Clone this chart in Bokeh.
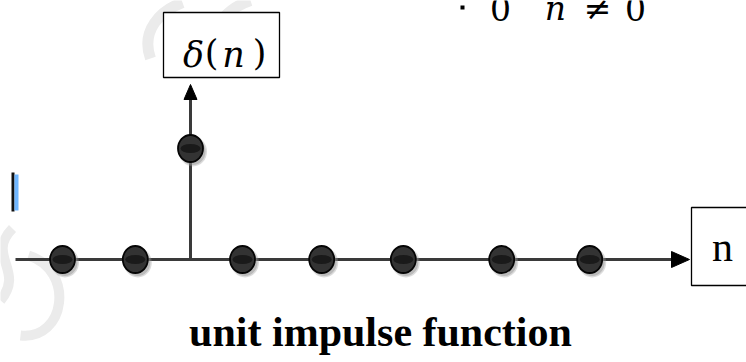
from bokeh.plotting import figure
from bokeh.models import Range1d
from bokeh.core.properties import value
from bokeh.embed import file_html
from bokeh.resources import INLINE

# Discrete unit impulse: delta(n) = 1 at n = 0, 0 elsewhere.
# Horizontal positions of the drawn samples along the n axis (sample units).
sample_pos = [-1.6, -0.69, 0.0, 0.65, 1.64, 2.66, 3.89, 4.99]
sample_val = [0, 0, 1, 0, 0, 0, 0, 0]

title_text = "unit impulse function"
axis_label_n = "n"

W, H = 746, 362
# pixel anchors of the origin and size of one unit on each axis
X0, SX = 190.0, 80.0
Y0, SY = 259.0, 111.0


def px(x):
    return (x - X0) / SX


def py(y):
    return (Y0 - y) / SY


def put_text(xs, ys, texts, size, font="DejaVu Serif", style="normal"):
    # baseline placement, nudged so the glyph baseline sits on ys
    p.text(x=[px(v) for v in xs], y=[py(v) for v in ys], text=texts,
           text_font=value(font), text_font_style=style,
           text_font_size=f"{size}px", text_align="center",
           text_baseline="alphabetic", text_color="black",
           y_offset=-round(0.32 * size))


p = figure(width=W, height=H, output_backend="svg", toolbar_location=None,
           x_range=Range1d(px(0), px(W)), y_range=Range1d(py(H), py(0)),
           min_border=0)
p.axis.visible = False
p.grid.visible = False
p.outline_line_color = None
p.background_fill_color = "white"

# faint background watermark strokes
wm = "#ebebeb"
p.bezier(x0=[px(150)], y0=[py(58)], x1=[px(182)], y1=[py(2)],
         cx0=[px(140)], cy0=[py(30)], cx1=[px(160)], cy1=[py(10)],
         line_color=wm, line_width=11)
p.bezier(x0=[px(212)], y0=[py(36)], x1=[px(250)], y1=[py(0)],
         cx0=[px(220)], cy0=[py(15)], cx1=[px(235)], cy1=[py(5)],
         line_color=wm, line_width=11)
p.bezier(x0=[px(12)], y0=[py(228)], x1=[px(0)], y1=[py(300)],
         cx0=[px(-15)], cy0=[py(255)], cx1=[px(25)], cy1=[py(270)],
         line_color=wm, line_width=10)
p.bezier(x0=[px(28)], y0=[py(255)], x1=[px(20)], y1=[py(335)],
         cx0=[px(75)], cy0=[py(270)], cx1=[px(65)], cy1=[py(340)],
         line_color=wm, line_width=10)

# cut-off cursor mark at the left edge
p.quad(left=[px(11)], right=[px(14)], top=[py(172)], bottom=[py(211)],
       fill_color="#111111", line_color=None)
p.quad(left=[px(14)], right=[px(18)], top=[py(174)], bottom=[py(210)],
       fill_color="#6fb6ff", line_color=None)

# axes with arrow heads
axis_col = "#3a3a3a"
p.segment(x0=[px(15)], y0=[0], x1=[px(673)], y1=[0],
          line_color=axis_col, line_width=3)
p.segment(x0=[0], y0=[0], x1=[0], y1=[py(98)],
          line_color=axis_col, line_width=3)
p.patch(x=[px(689), px(671), px(671)], y=[0, py(251), py(267)],
        fill_color="black", line_color="black")
p.patch(x=[0, px(183.5), px(196.5)], y=[py(84), py(99), py(99)],
        fill_color="black", line_color="black")

# samples: soft shadow, then the dark bead
sh_dx, sh_dy = 2.5 / SX, -3.0 / SY
p.ellipse(x=[v + sh_dx for v in sample_pos], y=[v + sh_dy for v in sample_val],
          width=28, height=30, width_units="screen", height_units="screen",
          fill_color="#9a9a9a", fill_alpha=0.35, line_color=None)
p.ellipse(x=[v + sh_dx for v in sample_pos], y=[v + sh_dy for v in sample_val],
          width=25, height=27, width_units="screen", height_units="screen",
          fill_color="#8a8a8a", fill_alpha=0.4, line_color=None)
p.ellipse(x=sample_pos, y=sample_val, width=25, height=27,
          width_units="screen", height_units="screen",
          fill_color="#333333", line_color="#050505", line_width=1.8)
p.ellipse(x=sample_pos, y=sample_val, width=20, height=9,
          width_units="screen", height_units="screen",
          fill_color="#141414", fill_alpha=0.8, line_color=None)

# label boxes
p.quad(left=[px(163)], right=[px(279)], top=[py(12)], bottom=[py(77)],
       fill_color="white", line_color="black", line_width=1.3)
p.quad(left=[px(691)], right=[px(760)], top=[py(207)], bottom=[py(285)],
       fill_color="white", line_color="black", line_width=1.3)

# delta(n)
put_text([193, 233], [65, 65], ["δ", "n"], 35, style="italic")
put_text([211, 259], [63, 63], ["(", ")"], 35)

# tail of the piecewise definition above
p.quad(left=[px(460)], right=[px(464)], top=[py(5)], bottom=[py(9)],
       fill_color="black", line_color=None)
put_text([500, 597, 635], [19, 19, 19], ["0", "≠", "0"], 33)
put_text([555], [19], ["n"], 33, style="italic")

# axis name and caption
put_text([722], [259], [axis_label_n], 42, font="Liberation Serif")
put_text([380], [344], [title_text], 42, font="Liberation Serif", style="bold")

open("out.html", "w").write(file_html(p, INLINE))
